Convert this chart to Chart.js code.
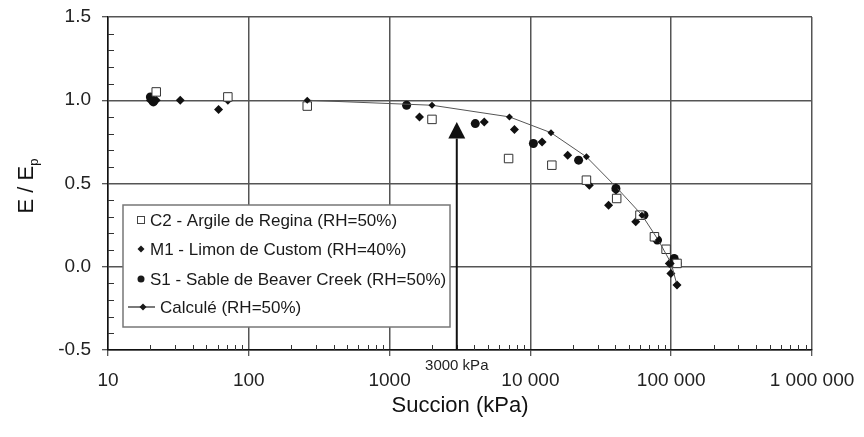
<!DOCTYPE html>
<html>
<head>
<meta charset="utf-8">
<script src="https://cdn.jsdelivr.net/npm/chart.js@4.4.1/dist/chart.umd.min.js"></script>
<style>
  html, body { margin: 0; padding: 0; background: #fff; }
  #wrap { width: 864px; height: 437px; }
</style>
</head>
<body>
<div id="wrap"><canvas id="grafico" width="864" height="437"></canvas></div>
<script>
// Succion (kPa) / E/Ep
const calcX = [260, 2000, 7100, 14000, 25000, 40500, 62000, 81000, 100000, 110000];
const calcY = [1.0, 0.97, 0.90, 0.805, 0.66, 0.48, 0.31, 0.16, 0.02, -0.11];

const c2X = [22, 71, 260, 2000, 7000, 14200, 25000, 41000, 60000, 76000, 92000, 110000];
const c2Y = [1.05, 1.02, 0.965, 0.885, 0.65, 0.61, 0.52, 0.41, 0.31, 0.18, 0.105, 0.02];

const m1X = [20, 20.5, 22, 32.6, 61, 71, 1630, 4700, 7700, 12100, 18400, 26200, 35900, 40500, 56000, 78000, 97000, 99500, 105000, 110000];
const m1Y = [1.0, 1.01, 1.0, 1.0, 0.945, 1.0, 0.9, 0.87, 0.825, 0.75, 0.67, 0.49, 0.37, 0.46, 0.27, 0.16, 0.02, -0.04, 0.04, -0.11];

const s1X = [20, 21, 1320, 4060, 10500, 22000, 40500, 64000, 80000, 105000, 110000];
const s1Y = [1.02, 0.99, 0.97, 0.86, 0.74, 0.64, 0.47, 0.31, 0.16, 0.05, 0.02];

const xTickValues = [10, 100, 1000, 10000, 100000, 1000000];
const xTickLabels = ['10', '100', '1000', '10 000', '100 000', '1 000 000'];
const legendLabels = ['C2 - Argile de Regina (RH=50%)', 'M1 - Limon de Custom (RH=40%)', 'S1 - Sable de Beaver Creek (RH=50%)', 'Calculé (RH=50%)'];
const arrowX = 3000;

const FONT = 'Arial, "Liberation Sans", sans-serif';
const pts = (xs, ys) => xs.map((v, i) => ({x: v, y: ys[i]}));

function line(ctx, x1, y1, x2, y2) {
  ctx.beginPath(); ctx.moveTo(x1, y1); ctx.lineTo(x2, y2); ctx.stroke();
}

const extras = {
  id: 'extras',
  afterDraw(chart) {
    const {ctx, chartArea: a, scales: {x, y}} = chart;
    ctx.save();

    // minor ticks
    ctx.strokeStyle = '#333';
    ctx.lineWidth = 1;
    for (let d = 10; d < 1e6; d *= 10) {
      for (let k = 2; k < 10; k++) {
        const px = Math.round(x.getPixelForValue(d * k)) + 0.5;
        line(ctx, px, a.bottom, px, a.bottom - 5);
      }
    }
    for (let i = -4; i <= 14; i++) {
      if (i % 5 === 0) continue;
      const py = Math.round(y.getPixelForValue(i / 10)) + 0.5;
      line(ctx, a.left, py, a.left + 6, py);
    }

    // arrow at 3000 kPa
    const ax = x.getPixelForValue(arrowX);
    const tip = y.getPixelForValue(0.87);
    const base = y.getPixelForValue(0.77);
    ctx.strokeStyle = '#111';
    ctx.lineWidth = 2;
    line(ctx, ax, a.bottom, ax, base);
    ctx.fillStyle = '#111';
    ctx.beginPath();
    ctx.moveTo(ax, tip);
    ctx.lineTo(ax - 8.5, base);
    ctx.lineTo(ax + 8.5, base);
    ctx.closePath();
    ctx.fill();
    ctx.font = '15px ' + FONT;
    ctx.fillStyle = '#222';
    ctx.textAlign = 'center';
    ctx.textBaseline = 'middle';
    ctx.fillText(arrowX + ' kPa', ax, a.bottom + 16);

    // legend box
    const lx = 123, ly = 205, lw = 327, lh = 122;
    ctx.fillStyle = '#fff';
    ctx.fillRect(lx, ly, lw, lh);
    ctx.strokeStyle = '#777';
    ctx.lineWidth = 1.5;
    ctx.strokeRect(lx, ly, lw, lh);
    ctx.font = '17px ' + FONT;
    ctx.textAlign = 'left';
    const rows = [220, 249, 279, 307];
    // square
    ctx.strokeStyle = '#444'; ctx.lineWidth = 1;
    ctx.strokeRect(lx + 14.5, rows[0] - 3.5, 7, 7);
    ctx.fillStyle = '#1a1a1a';
    ctx.fillText(legendLabels[0], lx + 27, rows[0] + 1);
    // diamond
    const diamond = (cx, cy, r) => {
      ctx.beginPath();
      ctx.moveTo(cx, cy - r); ctx.lineTo(cx + r, cy); ctx.lineTo(cx, cy + r); ctx.lineTo(cx - r, cy);
      ctx.closePath(); ctx.fill();
    };
    diamond(lx + 18, rows[1], 3.5);
    ctx.fillText(legendLabels[1], lx + 27, rows[1] + 1);
    ctx.beginPath(); ctx.arc(lx + 18, rows[2], 3.5, 0, Math.PI * 2); ctx.fill();
    ctx.fillText(legendLabels[2], lx + 27, rows[2] + 1);
    ctx.strokeStyle = '#222'; ctx.lineWidth = 1.2;
    line(ctx, lx + 5, rows[3], lx + 32, rows[3]);
    diamond(lx + 20, rows[3], 3.5);
    ctx.fillText(legendLabels[3], lx + 37, rows[3] + 1);

    // axis titles
    ctx.fillStyle = '#111';
    ctx.font = '22px ' + FONT;
    ctx.textAlign = 'center';
    ctx.fillText('Succion (kPa)', (a.left + a.right) / 2, 406);
    ctx.translate(27, 186);
    ctx.rotate(-Math.PI / 2);
    ctx.textAlign = 'left';
    const t1 = 'E / E';
    const w1 = ctx.measureText(t1).width;
    ctx.font = '13px ' + FONT;
    const w2 = ctx.measureText('p').width;
    const start = -(w1 + w2) / 2;
    ctx.font = '22px ' + FONT;
    ctx.fillText(t1, start, 0);
    ctx.font = '13px ' + FONT;
    ctx.fillText('p', start + w1, 7);
    ctx.restore();
  }
};

const config = {
  type: 'scatter',
  data: {
    datasets: [{
      label: legendLabels[3],
      data: pts(calcX, calcY),
      showLine: true,
      borderColor: '#555',
      borderWidth: 1,
      pointStyle: 'rectRot',
      pointRadius: 3.5,
      pointBackgroundColor: '#111',
      pointBorderColor: '#111',
      pointBorderWidth: 0
    }, {
      label: legendLabels[0],
      data: pts(c2X, c2Y),
      pointStyle: 'rect',
      pointRadius: 6,
      pointBackgroundColor: '#fff',
      pointBorderColor: '#333',
      pointBorderWidth: 1
    }, {
      label: legendLabels[1],
      data: pts(m1X, m1Y),
      pointStyle: 'rectRot',
      pointRadius: 4.5,
      pointBackgroundColor: '#111',
      pointBorderColor: '#111',
      pointBorderWidth: 0
    }, {
      label: legendLabels[2],
      data: pts(s1X, s1Y),
      pointStyle: 'circle',
      pointRadius: 4.5,
      pointBackgroundColor: '#111',
      pointBorderColor: '#111',
      pointBorderWidth: 0
    }]
  },
  options: {
    responsive: false,
    animation: false,
    layout: { padding: { top: 17, right: 52, left: 0, bottom: 0 } },
    plugins: { legend: { display: false }, tooltip: { enabled: false } },
    scales: {
      x: {
        type: 'logarithmic',
        min: 10,
        max: 1000000,
        afterBuildTicks: (scale) => { scale.ticks = xTickValues.map(v => ({value: v, major: true})); },
        afterFit: (scale) => { scale.height = 87; scale.paddingLeft = 0; scale.paddingRight = 0; },
        ticks: {
          autoSkip: false,
          maxRotation: 0,
          padding: 13,
          color: '#222',
          font: { family: FONT, size: 19 },
          callback: (v) => xTickLabels[xTickValues.indexOf(v)] ?? ''
        },
        grid: { color: '#555', lineWidth: 1.5, tickLength: 6, tickColor: '#222', tickWidth: 1 },
        border: { display: true, color: '#111', width: 1.5 }
      },
      y: {
        min: -0.5,
        max: 1.5,
        afterFit: (scale) => { scale.width = 108; scale.paddingTop = 0; scale.paddingBottom = 0; },
        ticks: {
          stepSize: 0.5,
          padding: 11,
          color: '#222',
          font: { family: FONT, size: 19 },
          callback: (v) => v.toFixed(1)
        },
        grid: { color: '#555', lineWidth: 1.5, tickLength: 6, tickColor: '#222', tickWidth: 1 },
        border: { display: true, color: '#111', width: 1.5 }
      }
    }
  },
  plugins: [extras]
};

const ctx = document.getElementById('grafico').getContext('2d');
new Chart(ctx, config);
</script>
</body>
</html>
